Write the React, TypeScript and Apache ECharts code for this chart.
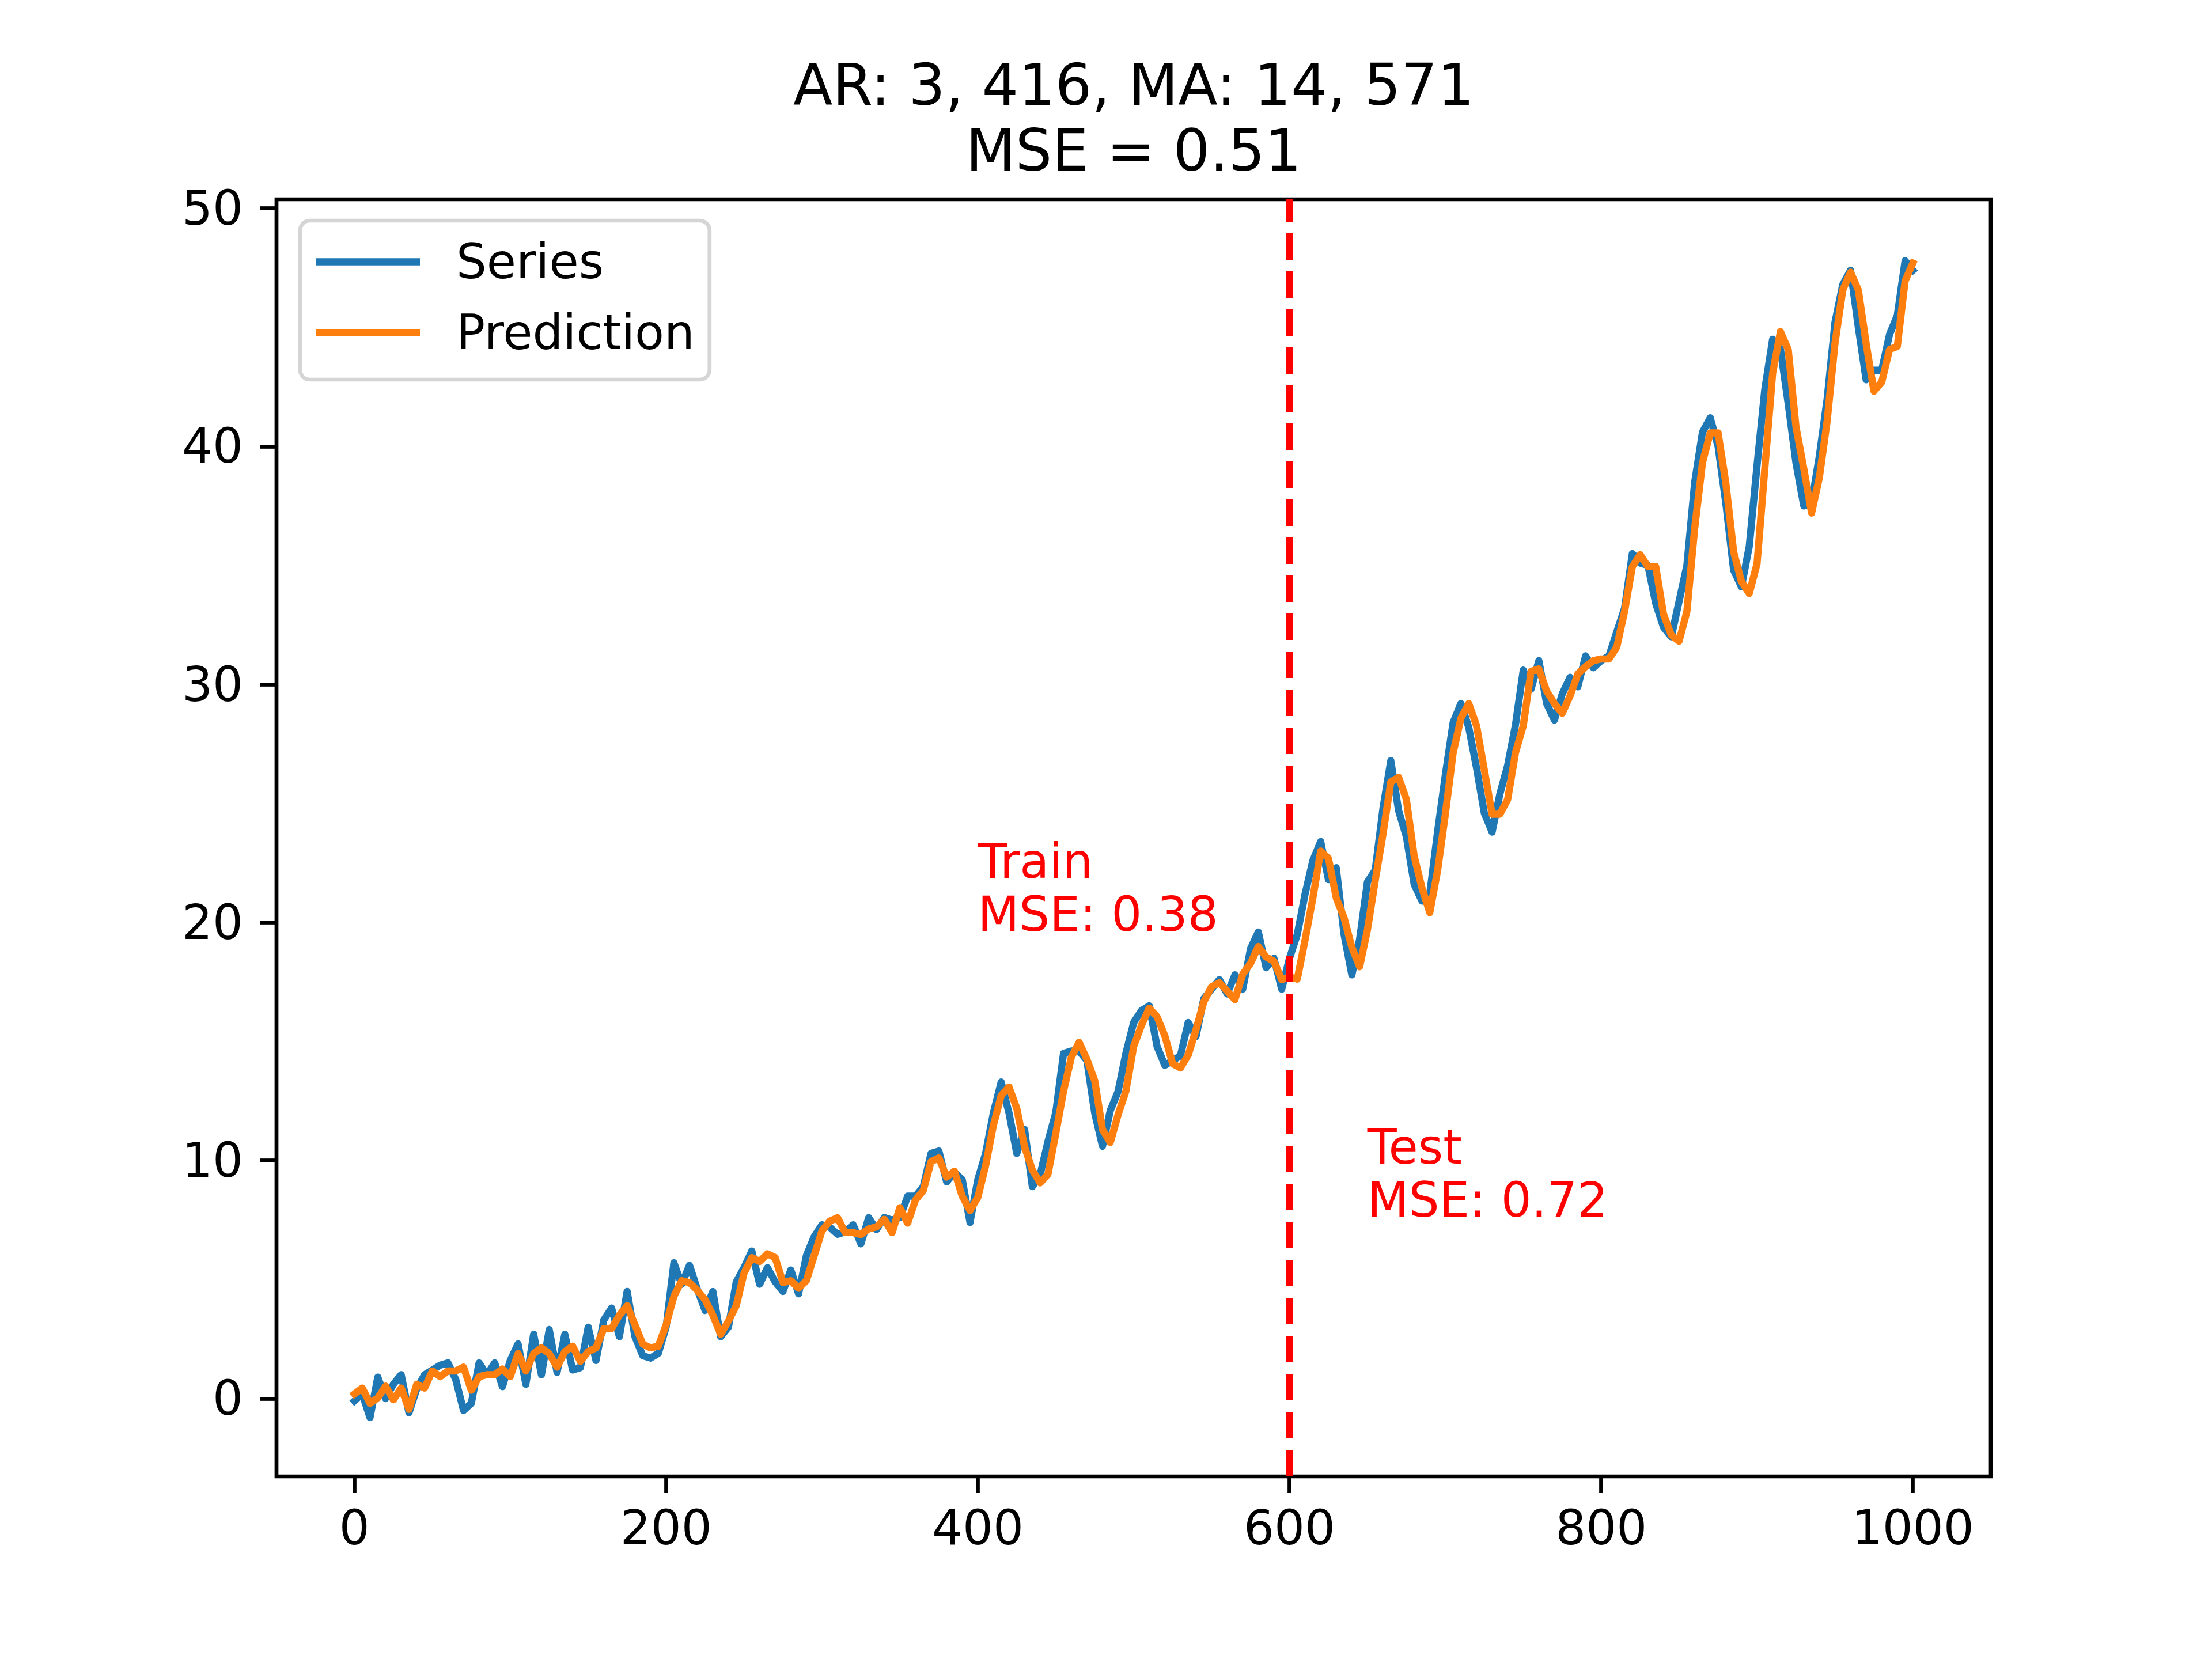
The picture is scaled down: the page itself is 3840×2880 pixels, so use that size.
import React, { useEffect, useRef } from 'react'
import * as echarts from 'echarts'

// values, one every 5 steps (x = 0, 5, ..., 1000)
const xStep = 5

const seriesValues = [
  -0.1, 0.2, -0.8, 0.9, 0.0, 0.6, 1.0, -0.6, 0.4, 1.0,
  1.2, 1.4, 1.5, 0.8, -0.5, -0.2, 1.5, 1.0, 1.5, 0.5,
  1.6, 2.3, 0.6, 2.7, 1.0, 2.9, 1.1, 2.7, 1.2, 1.3,
  3.0, 1.6, 3.3, 3.8, 2.6, 4.5, 2.6, 1.8, 1.7, 1.9,
  3.0, 5.7, 4.8, 5.6, 4.6, 3.7, 4.5, 2.6, 3.0, 4.9,
  5.5, 6.2, 4.8, 5.5, 4.9, 4.5, 5.4, 4.4, 6.0, 6.8,
  7.3, 7.2, 6.9, 7.0, 7.3, 6.5, 7.6, 7.1, 7.6, 7.5,
  7.6, 8.5, 8.5, 8.9, 10.3, 10.4, 9.1, 9.5, 9.2, 7.4,
  9.2, 10.3, 12.0, 13.3, 12.0, 10.3, 11.3, 8.9, 9.4, 10.8,
  12.0, 14.5, 14.6, 14.6, 14.2, 12.0, 10.6, 12.1, 12.9, 14.5,
  15.8, 16.3, 16.5, 14.8, 14.0, 14.2, 14.4, 15.8, 15.2, 16.8,
  17.2, 17.6, 17.0, 17.8, 17.2, 18.9, 19.6, 18.1, 18.5, 17.2,
  18.5, 19.5, 21.2, 22.6, 23.4, 21.8, 22.3, 19.5, 17.8, 19.3,
  21.7, 22.2, 24.8, 26.8, 24.7, 23.6, 21.6, 20.9, 21.2, 23.8,
  26.2, 28.4, 29.2, 28.2, 26.5, 24.6, 23.8, 25.4, 26.6, 28.3,
  30.6, 29.8, 31.0, 29.2, 28.5, 29.6, 30.3, 29.9, 31.2, 30.7,
  31.0, 31.2, 32.2, 33.2, 35.5, 35.1, 35.0, 33.4, 32.4, 32.0,
  33.5, 35.0, 38.5, 40.6, 41.2, 40.0, 37.6, 34.8, 34.1, 35.8,
  39.2, 42.4, 44.5, 44.1, 41.8, 39.3, 37.5, 37.6, 39.6, 42.0,
  45.2, 46.8, 47.4, 45.0, 42.8, 43.2, 43.2, 44.7, 45.5, 47.8,
  47.4
]

const predictionValues = [
  0.19, 0.44, -0.2, 0.03, 0.52, -0.05, 0.44, -0.45, 0.6, 0.44,
  1.16, 0.92, 1.16, 1.16, 1.32, 0.35, 0.92, 1.0, 1.0, 1.24,
  0.92, 1.89, 1.16, 1.89, 2.13, 1.89, 1.32, 1.97, 2.2, 1.56,
  1.97, 2.13, 2.94, 2.94, 3.5, 3.9, 3.1, 2.29, 2.13, 2.2,
  3.1, 4.3, 4.95, 4.87, 4.55, 4.15, 3.5, 2.7, 3.26, 3.9,
  5.27, 5.92, 5.76, 6.08, 5.92, 4.87, 4.95, 4.63, 4.95, 6.0,
  7.05, 7.45, 7.6, 6.97, 6.97, 6.89, 7.13, 7.21, 7.53, 6.97,
  8.02, 7.37, 8.34, 8.74, 9.95, 10.11, 9.3, 9.55, 8.5, 7.9,
  8.45, 9.78, 11.48, 12.73, 13.09, 12.19, 10.58, 9.6, 9.06, 9.42,
  11.12, 12.91, 14.34, 14.97, 14.25, 13.36, 11.3, 10.76, 11.92, 12.91,
  14.79, 15.68, 16.4, 16.04, 15.24, 14.07, 13.89, 14.43, 15.5, 16.67,
  17.3, 17.47, 17.12, 16.76, 17.83, 18.28, 18.99, 18.55, 18.37, 17.6,
  17.72, 17.62, 19.27, 21.03, 23.0, 22.69, 21.03, 20.2, 18.96, 18.14,
  19.69, 21.76, 23.72, 25.9, 26.1, 25.17, 22.79, 21.45, 20.41, 22.17,
  24.55, 27.13, 28.58, 29.2, 28.27, 26.41, 24.55, 24.55, 25.17, 27.13,
  28.27, 30.55, 30.65, 29.72, 29.2, 28.79, 29.51, 30.44, 30.75, 31.0,
  31.07, 31.07, 31.57, 33.07, 34.95, 35.45, 34.95, 34.95, 32.95, 32.07,
  31.82, 33.07, 36.57, 39.32, 40.57, 40.57, 38.45, 35.57, 34.32, 33.82,
  35.07, 39.07, 43.07, 44.82, 44.07, 40.82, 39.07, 37.2, 38.7, 41.07,
  44.32, 46.57, 47.32, 46.57, 44.32, 42.32, 42.7, 44.07, 44.2, 46.95,
  47.7
]

const xTicks = [0, 200, 400, 600, 800, 1000]
const yTicks = [0, 10, 20, 30, 40, 50]
const splitX = 600

const titleLines = ['AR: 3, 416, MA: 14, 571', 'MSE = 0.51']
const notes = [
  { x: 400, y: 20, lines: ['Train', 'MSE: 0.38'] },
  { x: 650, y: 8, lines: ['Test', 'MSE: 0.72'] }
]

const FONT = 'DejaVu Sans'
const TICK_FS = 83.3
const TITLE_FS = 100
const LW = 12.5
const SPINE = 6.7

const App: React.FC = () => {
  const chartRef = useRef<HTMLDivElement>(null)

  useEffect(() => {
    document.body.style.margin = '0'
    if (!chartRef.current) return
    const chart = echarts.init(chartRef.current, null, { renderer: 'svg' })

    const toPairs = (vals: number[]) => vals.map((v, i) => [i * xStep, v])

    const option = {
      animation: false,
      backgroundColor: '#fff',
      textStyle: { fontFamily: FONT },
      grid: {
        left: 480,
        top: 346,
        width: 2976,
        height: 2217,
        show: true,
        borderColor: '#000',
        borderWidth: SPINE,
        backgroundColor: 'transparent'
      },
      xAxis: {
        type: 'value',
        min: -50,
        max: 1050,
        axisLine: { show: false, onZero: false },
        splitLine: { show: false },
        axisTick: {
          show: true,
          length: 29,
          lineStyle: { color: '#000', width: SPINE },
          customValues: xTicks
        },
        axisLabel: {
          customValues: xTicks,
          formatter: (v: number) => String(v),
          margin: 48,
          fontSize: TICK_FS,
          fontFamily: FONT,
          color: '#000'
        }
      },
      yAxis: {
        type: 'value',
        min: -3.27,
        max: 50.38,
        axisLine: { show: false, onZero: false },
        splitLine: { show: false },
        axisTick: {
          show: true,
          length: 29,
          lineStyle: { color: '#000', width: SPINE },
          customValues: yTicks
        },
        axisLabel: {
          customValues: yTicks,
          formatter: (v: number) => String(v),
          margin: 58,
          fontSize: TICK_FS,
          fontFamily: FONT,
          color: '#000'
        }
      },
      legend: {
        orient: 'vertical',
        left: 521,
        top: 383,
        padding: [30, 26, 40, 28],
        itemGap: 40,
        itemWidth: 180,
        itemHeight: LW,
        icon: 'rect',
        borderColor: '#d5d5d5',
        borderWidth: SPINE,
        borderRadius: 17,
        backgroundColor: 'rgba(255,255,255,0.8)',
        textStyle: {
          fontSize: TICK_FS,
          fontFamily: FONT,
          color: '#000',
          padding: [0, 0, 0, 58]
        },
        data: ['Series', 'Prediction']
      },
      series: [
        {
          name: 'Series',
          type: 'line',
          data: toPairs(seriesValues),
          showSymbol: false,
          color: '#1f77b4',
          lineStyle: { color: '#1f77b4', width: LW, cap: 'square', join: 'round' },
          z: 2
        },
        {
          name: 'Prediction',
          type: 'line',
          data: toPairs(predictionValues),
          showSymbol: false,
          color: '#ff7f0e',
          lineStyle: { color: '#ff7f0e', width: LW, cap: 'square', join: 'round' },
          z: 3,
          markLine: {
            silent: true,
            symbol: ['none', 'none'],
            label: { show: false },
            lineStyle: { color: '#ff0000', width: LW, type: [46, 20] },
            data: [{ xAxis: splitX }]
          }
        }
      ]
    }

    chart.setOption(option)

    // texts placed on baselines like matplotlib; 'middle' sits ~0.346em above baseline
    const graphics: any[] = []
    const titleBase = [182, 296]
    titleLines.forEach((t, i) => {
      graphics.push({
        type: 'text',
        x: 1968,
        y: titleBase[i] - 0.346 * TITLE_FS,
        style: {
          text: t,
          fontSize: TITLE_FS,
          fontFamily: FONT,
          fill: '#000',
          textAlign: 'center',
          textVerticalAlign: 'middle'
        }
      })
    })

    notes.forEach(n => {
      const [px, py] = chart.convertToPixel({ gridIndex: 0 }, [n.x, n.y]) as number[]
      const count = n.lines.length
      n.lines.forEach((t, i) => {
        const base = py + 15 - (count - 1 - i) * 92
        graphics.push({
          type: 'text',
          x: px,
          y: base - 0.346 * TICK_FS,
          z: 10,
          style: {
            text: t,
            fontSize: TICK_FS,
            fontFamily: FONT,
            fill: '#ff0000',
            textAlign: 'left',
            textVerticalAlign: 'middle'
          }
        })
      })
    })

    chart.setOption({ graphic: graphics })

    return () => {
      chart.dispose()
    }
  }, [])

  return <div ref={chartRef} style={{ width: '3840px', height: '2880px' }} />
}

export default App
